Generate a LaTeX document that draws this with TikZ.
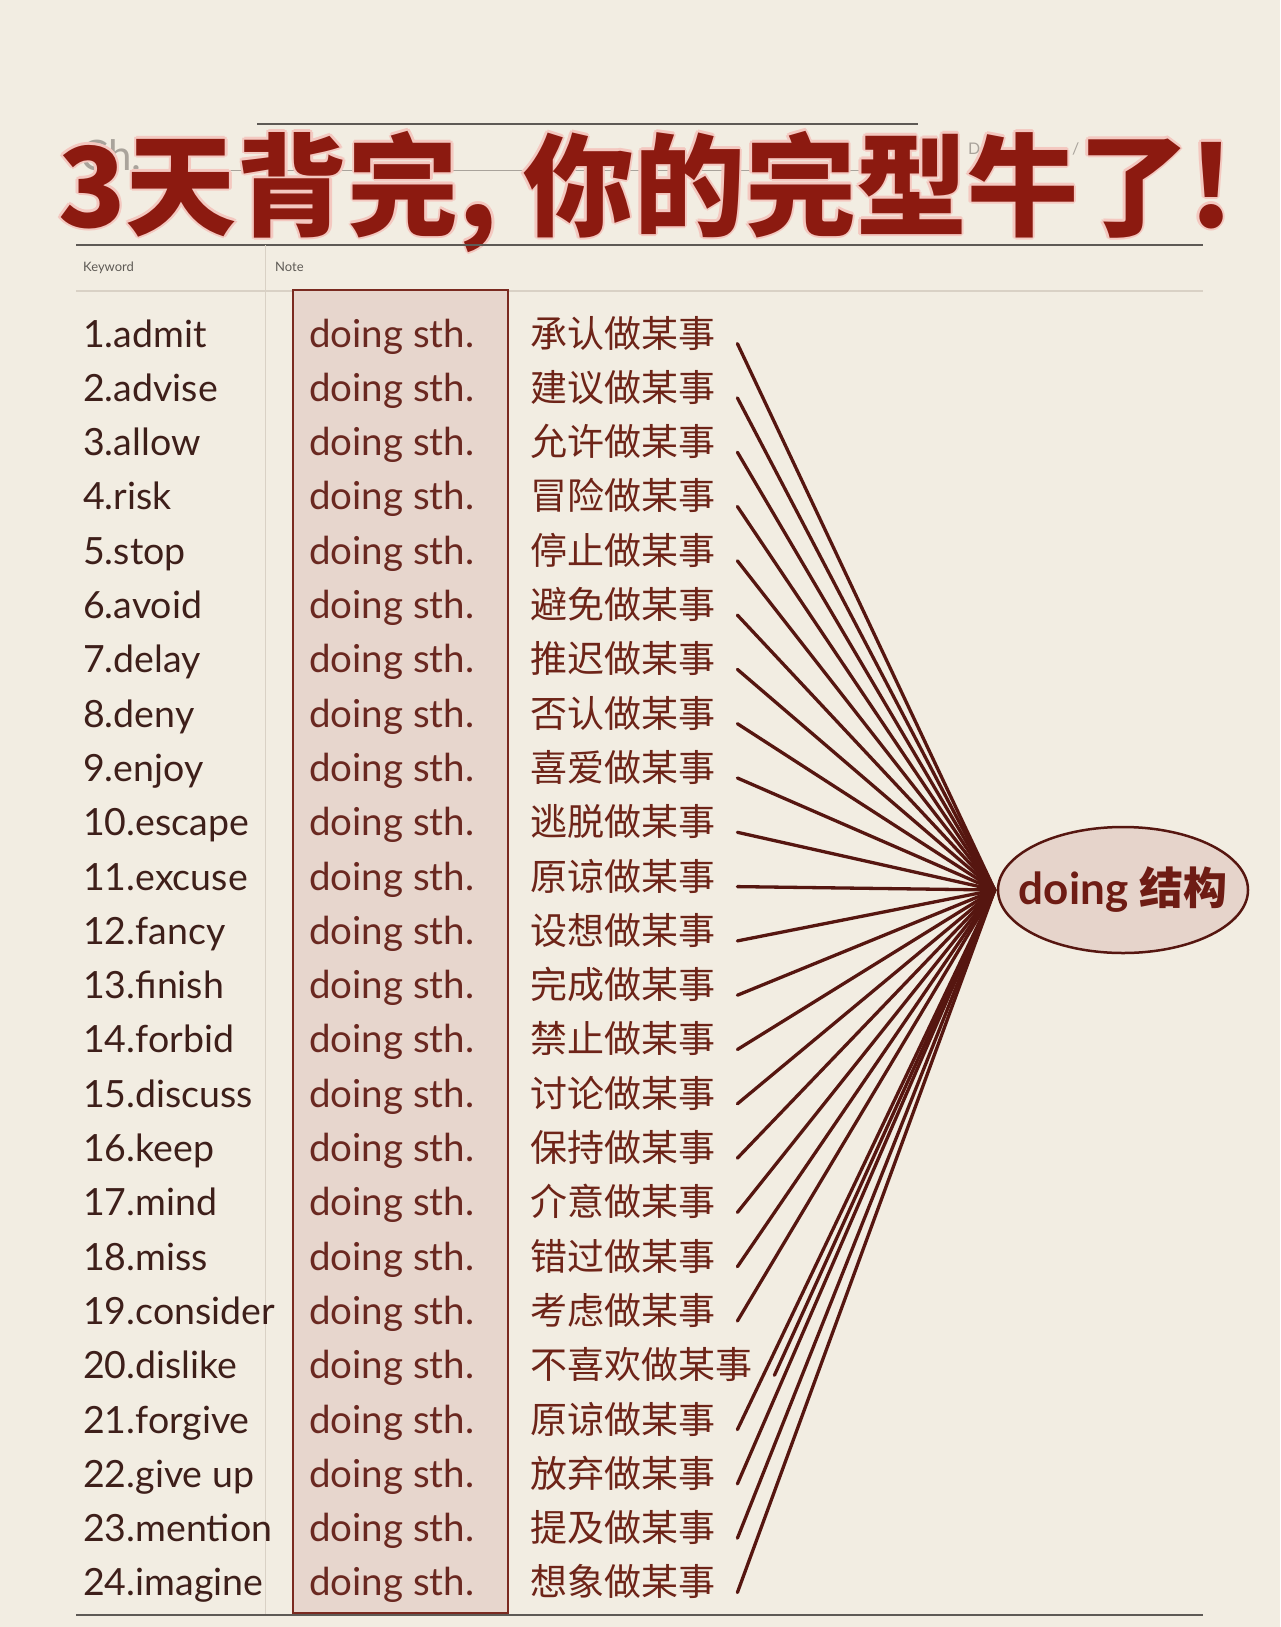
\documentclass[tikz,border=0pt]{standalone}
\usepackage{fontspec}
\setmainfont{Lato}
\newfontfamily\cjk{Noto Sans CJK SC}
\usetikzlibrary{shapes.geometric}
\definecolor{paper}{HTML}{F2EDE2}
\definecolor{titlered}{HTML}{8C1A10}
\definecolor{halo}{HTML}{F4C8C0}
\definecolor{rulegray}{HTML}{5E5A55}
\definecolor{lightrule}{HTML}{D9D1C5}
\definecolor{ghost}{HTML}{A9A39B}
\definecolor{boxfill}{HTML}{E7D6CD}
\definecolor{boxedge}{HTML}{7A2A20}
\definecolor{wordc}{HTML}{3E1F1A}
\definecolor{doingc}{HTML}{6A2820}
\definecolor{cnc}{HTML}{6E2418}
\definecolor{linec}{HTML}{561610}
\definecolor{ellfill}{HTML}{E6D4CB}
\definecolor{elltext}{HTML}{6E1C14}
\newcommand\titletext{3天背完, 你的完型牛了!}
\tikzset{
  titlestyle/.style={inner sep=0pt, anchor=base west, font=\cjk\bfseries\fontsize{111}{120}\selectfont},
  wordstyle/.style={inner sep=0pt, anchor=base west, text=wordc, font=\fontsize{37.5}{40}\selectfont, text height=0.8em, text depth=0.12em},
  doingstyle/.style={inner sep=0pt, anchor=base west, text=doingc, font=\fontsize{38.5}{40}\selectfont, text height=0.8em, text depth=0.12em},
  cnstyle/.style={inner sep=0pt, anchor=base west, text=cnc, font=\cjk\fontsize{37}{40}\selectfont, text height=0.8em, text depth=0.12em},
  smalllabel/.style={inner sep=0pt, anchor=base west, text=rulegray, font=\fontsize{13}{14}\selectfont},
  conn/.style={draw=linec, line width=3.3pt, line cap=round},
  heavyrule/.style={draw=rulegray, line width=1.8pt},
  thinrule/.style={draw=lightrule, line width=1pt},
}
\begin{document}
\begin{tikzpicture}[x=1pt,y=-1pt]
\useasboundingbox (0,0) rectangle (1280,1627);
\fill[paper] (0,0) rectangle (1280,1627);
% ghost page template behind the title
\draw[draw=rulegray, line width=1.2pt] (257,124) -- (918,124);
\draw[draw=ghost, line width=1pt] (140,170) -- (918,170);
\node[inner sep=0pt, anchor=base west, text=ghost, font=\fontsize{42}{44}\selectfont] (ch) at (80,170) {Ch.};
\node[inner sep=0pt, anchor=base west, text=ghost, font=\fontsize{16}{18}\selectfont] (da) at (968,154) {Da};
\node[inner sep=0pt, anchor=base west, text=ghost, font=\fontsize{16}{18}\selectfont] (sl1) at (1072,154) {/};
\node[inner sep=0pt, anchor=base west, text=ghost, font=\fontsize{16}{18}\selectfont] (sl2) at (1134,154) {/};
% title with halo
\foreach \dx/\dy [count=\h] in {-2.5/0,2.5/0,0/-2.5,0/2.5,-1.8/-1.8,1.8/1.8,-1.8/1.8,1.8/-1.8}{
  \node[titlestyle, text=halo] (halo\h) at ({58+\dx},{227+\dy}) {\titletext};
}
\node[titlestyle, text=titlered] (title) at (58,227) {\titletext};
% rules and header
\draw[heavyrule] (76,245) -- (1203,245);
\draw[thinrule] (265,245) -- (265,1615);
\node[smalllabel] (kw) at (83,271) {Keyword};
\node[smalllabel] (nt) at (275,271) {Note};
\draw[draw=lightrule, line width=1.2pt] (76,291) -- (1203,291);
\draw[heavyrule] (76,1615) -- (1203,1615);
% doing box
\draw[fill=boxfill, draw=boxedge, line width=2.5pt] (293,290) rectangle (508,1613);
% rows
\foreach \w/\c [count=\i] in {admit/承认,advise/建议,allow/允许,risk/冒险,stop/停止,avoid/避免,delay/推迟,deny/否认,enjoy/喜爱,escape/逃脱,excuse/原谅,fancy/设想,finish/完成,forbid/禁止,discuss/讨论,keep/保持,mind/介意,miss/错过,consider/考虑,dislike/不喜欢,forgive/原谅,give up/放弃,mention/提及,imagine/想象}{
  \pgfmathsetmacro\yb{347+(\i-1)*54.3}
  \node[wordstyle] (k\i) at (83,\yb) {\i.\w};
  \node[doingstyle] (d\i) at (309,\yb) {doing sth.};
  \node[cnstyle] (c\i) at (530,\yb) {\c 做某事};
}
% ellipse
\node[ellipse, draw=linec, line width=2.5pt, fill=ellfill, minimum width=250pt, minimum height=126pt, inner sep=0pt] (ell) at (1123,890) {};
\node[inner sep=0pt, text=elltext, font=\bfseries\fontsize{44}{48}\selectfont] (elltxt) at (1123,890) {doing {\cjk\bfseries 结构}};
% connectors
\foreach \i in {1,...,24}{
  \draw[conn] ([xshift=22pt]c\i.east) -- ([xshift=-2pt]ell.west);
}
\end{tikzpicture}
\end{document}
